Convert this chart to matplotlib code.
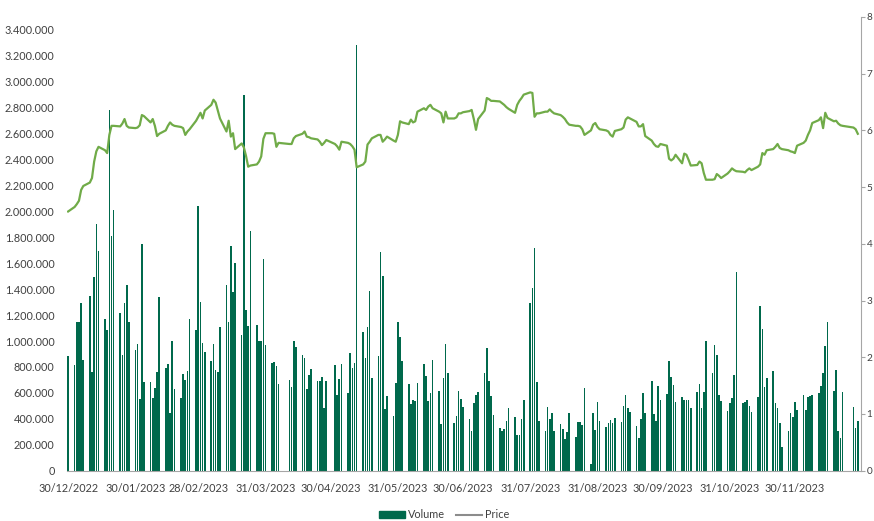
import matplotlib
matplotlib.use("Agg")
import matplotlib.pyplot as plt
import matplotlib.dates as mdates
from matplotlib.lines import Line2D
from matplotlib.patches import Patch
from matplotlib.ticker import FuncFormatter, MultipleLocator
import pandas as pd

plt.rcParams["font.family"] = ["Lato", "DejaVu Sans"]

# trading days (Euronext calendar: weekends and market holidays closed)
holidays = ["2023-04-07", "2023-04-10", "2023-05-01", "2023-12-25", "2023-12-26"]
dates = pd.bdate_range("2022-12-30", "2023-12-29")
dates = dates[~dates.isin(pd.to_datetime(holidays))]

# daily volume, thousands of shares
volume_k = [
    881,
    815, 1150, 1150, 1290, 855,
    1347, 758, 1496, 1902, 1691,
    1170, 1085, 2780, 1810, 2010,
    1216, 894, 1293, 1429, 1144,
    933, 977, 553, 1748, 686,
    681, 558, 637, 763, 1342,
    792, 822, 445, 1002, 630,
    558, 745, 699, 771, 1174,
    1085, 2043, 1298, 987, 912,
    843, 977, 776, 758, 1110,
    1429, 1144, 1735, 1375, 1601,
    1046, 2900, 1239, 1118, 1850,
    1123, 997, 1002, 1632, 971,
    827, 840, 809, 668,
    701, 642, 1002, 958,
    894, 866, 630, 738, 784,
    694, 694, 720, 486, 694,
    817, 586, 707, 822,
    599, 907, 792, 827, 3280,
    1072, 866, 1110, 1383, 715,
    887, 1689, 1503, 476, 578,
    419, 676, 1149, 1028, 848,
    668, 514, 545, 535, 673,
    822, 727, 535, 599, 853,
    617, 360, 712, 977, 750,
    368, 424, 617, 553, 488,
    398, 308, 519, 584, 604,
    750, 943, 694, 578, 432,
    329, 308, 318, 380, 483,
    411, 275, 275, 398, 547,
    1290, 1409, 1717, 686, 380,
    303, 493, 398, 445, 308,
    360, 318, 244, 296, 445,
    262, 373, 373, 352, 635,
    51, 442, 316, 532, 380,
    339, 368, 391, 365, 406,
    373, 501, 586, 483, 455,
    347, 252, 398, 599, 445,
    694, 437, 386, 655, 545,
    591, 843, 720, 661, 532,
    565, 545, 545, 545, 480,
    609, 668, 480, 609, 997,
    750, 971, 894, 586, 540,
    457, 519, 558, 738, 1534,
    519, 527, 545, 501, 450,
    565, 1272, 1092, 642, 712,
    771, 519, 483, 365, 185,
    303, 442, 411, 527, 468,
    584, 468, 565, 573, 584,
    596, 650, 750, 964, 1149,
    612, 776, 308, 252, 604,
    493, 329, 386,
]

# daily closing price
price = [
    4.57,
    4.65, 4.70, 4.76, 4.95, 5.02,
    5.08, 5.16, 5.45, 5.63, 5.71,
    5.65, 5.60, 5.92, 6.08, 6.08,
    6.07, 6.12, 6.20, 6.08, 6.05,
    6.04, 6.05, 6.09, 6.27, 6.25,
    6.14, 6.20, 6.08, 5.90, 5.94,
    6.00, 6.08, 6.14, 6.10, 6.08,
    6.06, 6.04, 5.92, 5.98, 6.02,
    6.17, 6.24, 6.31, 6.21, 6.35,
    6.45, 6.54, 6.49, 6.35, 6.21,
    5.98, 6.17, 5.89, 5.95, 5.67,
    5.77, 5.70, 5.55, 5.36, 5.38,
    5.40, 5.45, 5.54, 5.85, 5.95,
    5.95, 5.94, 5.71, 5.78,
    5.76, 5.76, 5.86, 5.90,
    5.94, 5.98, 5.89, 5.88, 5.86,
    5.84, 5.80, 5.74, 5.78, 5.83,
    5.76, 5.72, 5.66, 5.80,
    5.78, 5.76, 5.72, 5.66, 5.35,
    5.40, 5.45, 5.75, 5.80, 5.86,
    5.92, 5.92, 5.80, 5.84, 5.89,
    5.82, 5.80, 5.92, 6.16, 6.14,
    6.11, 6.19, 6.14, 6.16, 6.33,
    6.39, 6.36, 6.42, 6.45, 6.39,
    6.33, 6.30, 6.14, 6.33, 6.21,
    6.21, 6.23, 6.30, 6.30, 6.32,
    6.34, 6.36, 6.20, 6.01, 6.20,
    6.35, 6.57, 6.55, 6.52, 6.52,
    6.51, 6.48, 6.45, 6.41, 6.38,
    6.31, 6.45, 6.52, 6.57, 6.63,
    6.67, 6.66, 6.24, 6.30, 6.30,
    6.33, 6.33, 6.37, 6.33, 6.30,
    6.27, 6.24, 6.20, 6.14, 6.10,
    6.08, 6.08, 6.07, 6.02, 5.92,
    6.00, 6.10, 6.13, 6.06, 6.02,
    6.00, 5.98, 5.92, 5.89, 5.99,
    6.02, 6.05, 6.19, 6.23, 6.21,
    6.15, 6.07, 6.07, 6.11, 5.90,
    5.82, 5.76, 5.72, 5.71, 5.76,
    5.73, 5.50, 5.47, 5.50, 5.57,
    5.42, 5.59, 5.57, 5.48, 5.38,
    5.39, 5.45, 5.42, 5.25, 5.13,
    5.13, 5.14, 5.23, 5.20, 5.16,
    5.24, 5.28, 5.33, 5.30, 5.28,
    5.27, 5.26, 5.30, 5.33, 5.30,
    5.36, 5.40, 5.60, 5.57, 5.65,
    5.67, 5.71, 5.76, 5.69, 5.67,
    5.65, 5.63, 5.62, 5.60, 5.73,
    5.78, 5.82, 5.92, 6.00, 6.13,
    6.18, 6.23, 6.04, 6.31, 6.22,
    6.16, 6.17, 6.12, 6.09, 6.08,
    6.05, 6.02, 5.94,
]

tick_dates = pd.to_datetime([
    "2022-12-30", "2023-01-30", "2023-02-28", "2023-03-31", "2023-04-30",
    "2023-05-31", "2023-06-30", "2023-07-31", "2023-08-31", "2023-09-30",
    "2023-10-31", "2023-11-30",
])

BAR = "#00694c"
LINE = "#70ab48"
TXT = "#404040"
AXIS = "#a6a6a6"

fig = plt.figure(figsize=(8.74, 5.21), dpi=100)
ax = fig.add_axes([0.0767, 0.0965, 0.9085, 0.871])

ax.bar(dates, [v * 1000 for v in volume_k], width=0.75, color=BAR, zorder=2)
ax.set_ylim(0, 3500000)
ax.yaxis.set_major_locator(MultipleLocator(200000))
ax.yaxis.set_major_formatter(FuncFormatter(lambda v, p: f"{int(v):,}".replace(",", ".")))
ax.set_xlim(pd.Timestamp("2022-12-29 12:00"), pd.Timestamp("2023-12-30 12:00"))
ax.set_xticks(tick_dates)
ax.xaxis.set_major_formatter(mdates.DateFormatter("%d/%m/%Y"))

for s in ["top", "left", "right"]:
    ax.spines[s].set_visible(False)
ax.spines["bottom"].set_color(AXIS)
ax.tick_params(axis="both", length=0, labelsize=7.8, colors=TXT)
ax.tick_params(axis="x", pad=9)
ax.tick_params(axis="y", pad=9)

ax2 = ax.twinx()
ax2.plot(dates, price, color=LINE, linewidth=1.6, zorder=3)
ax2.set_ylim(0, 8)
ax2.yaxis.set_major_locator(MultipleLocator(1))
for s in ["top", "left", "bottom"]:
    ax2.spines[s].set_visible(False)
ax2.spines["right"].set_color(AXIS)
ax2.tick_params(axis="y", length=3, color=AXIS, labelsize=7.2, colors=TXT, pad=1)

handles = [Patch(facecolor=BAR, edgecolor=BAR), Line2D([], [], color="#8c8c8c", linewidth=1.5)]
fig.legend(handles, ["Volume", "Price"], loc="center", bbox_to_anchor=(0.508, 0.012),
           ncol=2, frameon=False, fontsize=7.8, handlelength=2.4, handleheight=0.6,
           columnspacing=1.0, handletextpad=0.3, labelcolor=TXT)

fig.savefig("out.png", dpi=100)
